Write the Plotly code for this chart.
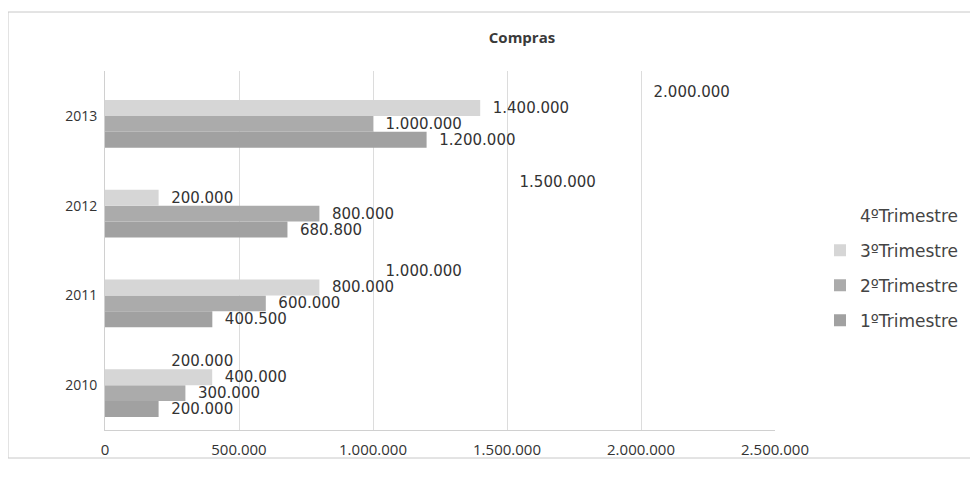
import plotly.graph_objects as go

years = ["2010", "2011", "2012", "2013"]
series_names = ["1ºTrimestre", "2ºTrimestre", "3ºTrimestre", "4ºTrimestre"]
t1 = [200000, 400500, 680800, 1200000]
t2 = [300000, 600000, 800000, 1000000]
t3 = [400000, 800000, 200000, 1400000]
t4 = [200000, 1000000, 1500000, 2000000]
tick_vals = [0, 500000, 1000000, 1500000, 2000000, 2500000]
tick_text = ["0", "500.000", "1.000.000", "1.500.000", "2.000.000", "2.500.000"]

colors = ["#a1a1a1", "#ababab", "#d6d6d6", "rgba(255,255,255,0)"]
values = [t1, t2, t3, t4]

# page offset (default body margin of the html page)
OFF = 8
W, H = 978 - OFF, 486 - OFF
L, R, T, B = 105 - OFF, 775 - OFF, 71 - OFF, 430 - OFF
pw, ph = R - L, B - T

def px(x):
    return (x - OFF - L) / pw

def py(y):
    return (B - (y - OFF)) / ph

fig = go.Figure()
for i, (name, vals) in enumerate(zip(series_names, values)):
    fig.add_trace(go.Bar(
        y=years, x=vals, name=name, orientation="h",
        marker=dict(color=colors[i], line=dict(width=0)),
        text=vals, texttemplate="\u00a0\u00a0%{x:,d}", textposition="outside",
        textfont=dict(family="DejaVu Sans", size=15, color="#333333"),
        constraintext="none", cliponaxis=False,
        legendgroup=name, legendrank=10 - i,
    ))

fig.update_layout(
    width=W, height=H,
    margin=dict(l=L, r=W - R, t=T, b=H - B),
    paper_bgcolor="white", plot_bgcolor="white",
    separators=",.",
    barmode="group", bargap=0.29, bargroupgap=0,
    title=dict(text="<b>Compras</b>", x=px(522), xref="paper", xanchor="center",
               y=1 - (38 - OFF) / H, yanchor="middle",
               font=dict(family="Open Sans", size=15, color="#3a3a3a")),
    xaxis=dict(range=[0, 2500000], tickvals=tick_vals, ticktext=tick_text,
               showgrid=True, gridcolor="#dcdcdc", gridwidth=1, zeroline=False,
               showline=True, linecolor="#d0d0d0", ticks="",
               tickfont=dict(family="Open Sans", size=15, color="#333333"),
               ticklabelstandoff=6),
    yaxis=dict(showgrid=False, showline=True, linecolor="#d0d0d0", ticks="",
               tickfont=dict(family="Open Sans", size=14, color="#333333"),
               ticklabelstandoff=4),
    legend=dict(x=px(820), xanchor="left", y=py(268), yanchor="middle",
                traceorder="grouped", tracegroupgap=10, itemwidth=30,
                font=dict(family="DejaVu Sans", size=17, color="#444444"),
                bgcolor="rgba(0,0,0,0)"),
    shapes=[dict(type="rect", xref="paper", yref="paper",
                 x0=px(8), x1=px(975), y0=py(458), y1=py(12),
                 line=dict(color="#c8c8c8", width=1))],
)

fig.write_html("out.html")
